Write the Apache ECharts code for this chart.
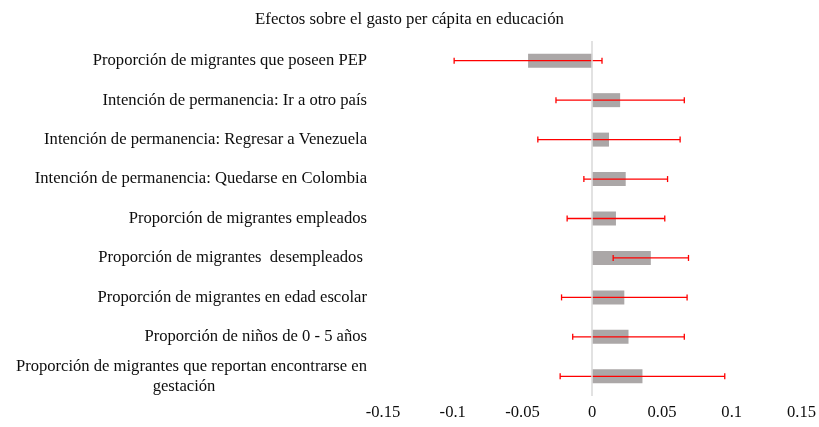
<!DOCTYPE html>
<html>
<head>
<meta charset="utf-8">
<script src="https://cdn.jsdelivr.net/npm/echarts@6/dist/echarts.min.js"></script>
<style>
  html, body { margin: 0; padding: 0; background: #fff; }
  #main { width: 819px; height: 427px; }
</style>
</head>
<body>
<div id="main"></div>
<script>
// categorias (de arriba hacia abajo)
const categories = [
  'Proporción de migrantes que poseen PEP',
  'Intención de permanencia: Ir a otro país',
  'Intención de permanencia: Regresar a Venezuela',
  'Intención de permanencia: Quedarse en Colombia',
  'Proporción de migrantes empleados',
  'Proporción de migrantes  desempleados ',
  'Proporción de migrantes en edad escolar',
  'Proporción de niños de 0 - 5 años',
  'Proporción de migrantes que reportan encontrarse en\ngestación'
];
// efectos estimados
const effects = [-0.046, 0.020, 0.012, 0.024, 0.017, 0.042, 0.023, 0.026, 0.036];
// intervalos (limite inferior / superior)
const lower = [-0.099, -0.026, -0.039, -0.006, -0.018, 0.015, -0.022, -0.014, -0.023];
const upper = [0.007, 0.066, 0.063, 0.054, 0.052, 0.069, 0.068, 0.066, 0.095];
const xTicks = [-0.15, -0.1, -0.05, 0, 0.05, 0.1, 0.15];

const font = '"Liberation Serif", "Times New Roman", serif';
const fs = 16.6;
const txt = '#0d0d0d';
const myChart = echarts.init(document.getElementById('main'));

const errData = categories.map((c, i) => [i, lower[i], upper[i]]);

myChart.setOption({
  animation: false,
  title: {
    text: 'Efectos sobre el gasto per cápita en educación',
    left: 'center',
    top: 6,
    textStyle: { fontFamily: font, fontSize: 16.8, fontWeight: 'normal', color: txt }
  },
  grid: { left: 383, right: 16, top: 41, bottom: 31 },
  xAxis: {
    type: 'value',
    min: xTicks[0],
    max: xTicks[xTicks.length - 1],
    interval: 0.05,
    axisLine: { show: false },
    axisTick: { show: false },
    splitLine: { show: false },
    axisLabel: {
      fontFamily: font, fontSize: fs, color: txt, margin: 8,
      formatter: v => String(Math.round(v * 100) / 100)
    }
  },
  yAxis: {
    type: 'category',
    inverse: true,
    data: categories,
    axisLine: { show: false, onZero: false },
    axisTick: { show: false },
    axisLabel: {
      fontFamily: font, fontSize: fs, color: txt, margin: 16, lineHeight: 20,
      formatter: function (val) {
        const parts = val.split('\n');
        if (parts.length === 1) return val;
        return '{a|' + parts[0] + '}\n{b|' + parts[1] + '}';
      },
      rich: {
        a: { fontFamily: font, fontSize: fs, color: txt, lineHeight: 20 },
        b: { fontFamily: font, fontSize: fs, color: txt, lineHeight: 20, width: 340, align: 'center', padding: [0, 13, 0, 0] }
      }
    }
  },
  series: [
    {
      type: 'bar',
      data: effects,
      barWidth: 14,
      itemStyle: { color: '#aba7a7' },
      markLine: {
        silent: true,
        symbol: 'none',
        label: { show: false },
        lineStyle: { color: '#d9d9d9', width: 1.5, type: 'solid' },
        data: [{ xAxis: 0 }]
      },
      z: 2
    },
    {
      type: 'custom',
      data: errData,
      encode: { x: [1, 2], y: 0 },
      z: 3,
      renderItem: function (params, api) {
        const idx = api.value(0);
        const lo = api.coord([api.value(1), idx]);
        const hi = api.coord([api.value(2), idx]);
        const h = 3;
        const style = { stroke: '#ff0000', lineWidth: 1.3 };
        return {
          type: 'group',
          children: [
            { type: 'line', shape: { x1: lo[0], y1: lo[1], x2: hi[0], y2: hi[1] }, style: style },
            { type: 'line', shape: { x1: lo[0], y1: lo[1] - h, x2: lo[0], y2: lo[1] + h }, style: style },
            { type: 'line', shape: { x1: hi[0], y1: hi[1] - h, x2: hi[0], y2: hi[1] + h }, style: style }
          ]
        };
      }
    }
  ]
});
</script>
</body>
</html>
